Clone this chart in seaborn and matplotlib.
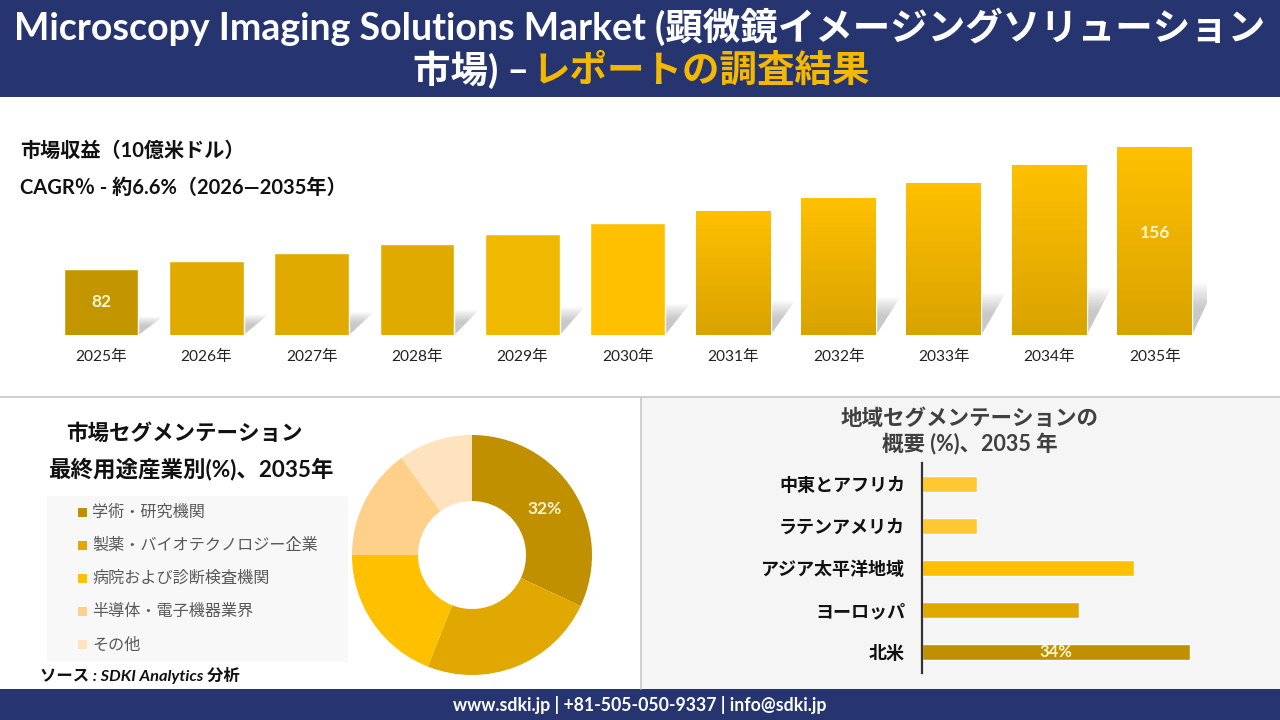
import numpy as np
import pandas as pd
import matplotlib
matplotlib.use("Agg")
import matplotlib.pyplot as plt
import seaborn as sns
from matplotlib.patches import Rectangle, Polygon
from matplotlib.colors import LinearSegmentedColormap

sns.set_style("white")
plt.rcParams['font.family'] = ['Lato', 'Noto Sans CJK JP', 'DejaVu Sans']

# ---- data ----
years = ['2025年', '2026年', '2027年', '2028年', '2029年', '2030年',
         '2031年', '2032年', '2033年', '2034年', '2035年']
revenue = [82, 87, 92, 97, 103, 110, 117, 125, 134, 145, 156]
bar_colors = ['#C39600', '#E0AA00', '#E0AA00', '#E0AA00', '#F0B800', '#FFC000',
              '#FFC000', '#FFC000', '#FFC000', '#FFC000', '#FFC000']
gradient_bars = [6, 7, 8, 9, 10]

end_use = ['学術・研究機関', '製薬・バイオテクノロジー企業', '病院および診断検査機関',
           '半導体・電子機器業界', 'その他']
end_use_share = [32, 24, 19, 15, 10]
end_use_colors = ['#C09000', '#E0A800', '#FFC000', '#FFD08A', '#FFE2BE']

regions = ['中東とアフリカ', 'ラテンアメリカ', 'アジア太平洋地域', 'ヨーロッパ', '北米']
region_share = [7, 7, 27, 20, 34]
region_colors = ['#FFC832', '#FFC832', '#FFC000', '#E0A800', '#C09000']

NAVY = '#263470'
GOLD = '#F5B800'

W, H = 1280, 720
fig = plt.figure(figsize=(12.8, 7.2), dpi=100)


def fx(x):
    return x / W


def fy(y):
    return 1 - y / H


def rect(x0, y0, x1, y1, color, z=-1, **kw):
    fig.patches.append(Rectangle((fx(x0), fy(y1)), fx(x1 - x0), (y1 - y0) / H,
                                 transform=fig.transFigure, facecolor=color,
                                 edgecolor='none', zorder=z, **kw))


# backgrounds
rect(0, 0, 1280, 97, NAVY)
rect(641, 397, 1280, 689, '#F5F5F5')
rect(47, 496, 348, 662, '#F8F8F8')
rect(0, 689, 1280, 720, NAVY)
fig.add_artist(plt.Line2D([0, 1], [fy(396.5)] * 2, color='#C8C8C8', lw=1.2, zorder=-0.5))
fig.add_artist(plt.Line2D([fx(640.5)] * 2, [fy(397), fy(689)], color='#C8C8C8', lw=1.2,
                          zorder=-0.5))

# header
fig.text(0.5, fy(27), 'Microscopy Imaging Solutions Market (顕微鏡イメージングソリューション',
         ha='center', va='center', color='white', fontsize=27, fontweight='bold')
fig.text(fx(529), fy(70), '市場) –', ha='right', va='center', color='white',
         fontsize=27, fontweight='bold')
fig.text(fx(533), fy(70), 'レポートの調査結果', ha='left', va='center', color=GOLD,
         fontsize=27, fontweight='bold')

# top texts
fig.text(fx(20), fy(151), '市場収益（10億米ドル）', ha='left', va='center',
         fontsize=14.5, fontweight='bold', color='#111111')
fig.text(fx(20), fy(188), 'CAGR％ - 約6.6%（2026―2035年）', ha='left', va='center',
         fontsize=14.5, fontweight='bold', color='#111111')

# ---- revenue bars ----
ymin = 42
ax1 = fig.add_axes([fx(48.3), fy(335), fx(1159), 205 / H])
df_rev = pd.DataFrame({'year': years, 'value': revenue})
sns.barplot(data=df_rev, x='year', y='value', hue='year', palette=bar_colors,
            saturation=1, legend=False, width=0.71, ax=ax1, zorder=3)
ax1.set_xlim(-0.5, len(years) - 0.5)
ax1.set_ylim(ymin, ymin + 205 / 1.649)
ax1.axis('off')

bars = list(ax1.patches)
grad = np.linspace(0, 1, 100).reshape(-1, 1)
cmap = LinearSegmentedColormap.from_list('g', ['#D9A300', '#FFC000'])
for i in gradient_bars:
    p = bars[i]
    x0, w, h = p.get_x(), p.get_width(), p.get_height()
    im = ax1.imshow(grad, cmap=cmap, aspect='auto', origin='lower',
                    extent=[x0, x0 + w, ymin, h], zorder=4)
    im.set_clip_path(p)

# soft skewed shadow behind each bar
for p in bars:
    xl, xr = p.get_x(), p.get_x() + p.get_width()
    T = (p.get_height() - ymin) * 0.24
    for s in np.linspace(1.15, 0.6, 11):
        d = 0.2 * s
        t = T * s
        ax1.add_patch(Polygon([(xl, ymin), (xr, ymin), (xr + d, ymin + t),
                               (xl + d, ymin + t)],
                              closed=True, facecolor='#7A7A7A', edgecolor='none',
                              alpha=0.042, zorder=1))

for i, frac in [(0, 0.5), (len(years) - 1, 0.54)]:
    ax1.text(i, ymin + (revenue[i] - ymin) * frac, str(revenue[i]),
             ha='center', va='center', color='#FFF5D0', fontsize=12.5,
             fontweight='bold', zorder=6)
for i, y in enumerate(years):
    ax1.text(i, ymin - 22 / 1.649, y, ha='center', va='center', fontsize=11.2,
             color='#222222', clip_on=False)

# ---- end-use donut ----
fig.text(fx(184), fy(433), '市場セグメンテーション', ha='center', va='center',
         fontsize=15.5, fontweight='bold', color='#111111')
fig.text(fx(191), fy(469), '最終用途産業別(%)、2035年', ha='center', va='center',
         fontsize=16.2, fontweight='bold', color='#111111')
for i, (lab, c) in enumerate(zip(end_use, end_use_colors)):
    yy = 512 + i * 33.2
    rect(78, yy - 4.5, 87, yy + 4.5, c, z=2)
    fig.text(fx(92), fy(yy), lab, ha='left', va='center', fontsize=11.6,
             color='#595959')
fig.text(fx(40), fy(676), 'ソース : SDKI Analytics 分析', ha='left', va='center',
         fontsize=11.8, fontstyle='italic', fontweight='bold', color='#111111')

ax2 = fig.add_axes([fx(352), fy(675), 240 / W, 240 / H])
ax2.pie(end_use_share, colors=end_use_colors, startangle=90, counterclock=False,
        wedgeprops=dict(width=0.55, edgecolor='none'))
ang = np.deg2rad(90 - 360 * end_use_share[0] / 200)
ax2.text(0.72 * np.cos(ang), 0.72 * np.sin(ang), f'{end_use_share[0]}%',
         ha='center', va='center', color='#FFF5D0', fontsize=12.5, fontweight='bold')
ax2.set_xlim(-1, 1)
ax2.set_ylim(-1, 1)
ax2.set_aspect('equal')

# ---- regional bars ----
fig.text(fx(970), fy(418), '地域セグメンテーションの', ha='center', va='center',
         fontsize=15.5, fontweight='bold', color='#404040')
fig.text(fx(970), fy(444), '概要 (%)、2035 年', ha='center', va='center',
         fontsize=15.5, fontweight='bold', color='#404040')

ax3 = fig.add_axes([fx(921.6), fy(673), 300 / W, 210 / H])
df_reg = pd.DataFrame({'region': regions, 'share': region_share})
sns.barplot(data=df_reg, y='region', x='share', hue='region', palette=region_colors,
            saturation=1, legend=False, orient='h', width=0.38, ax=ax3)
ax3.set_xlim(0, 34 / 268 * 300)
ax3.set_facecolor('none')
for s in ['top', 'right', 'bottom']:
    ax3.spines[s].set_visible(False)
ax3.spines['left'].set_color('#333333')
ax3.spines['left'].set_linewidth(1.6)
ax3.set_xticks([])
ax3.set_xlabel('')
ax3.set_ylabel('')
ax3.tick_params(axis='y', length=0, pad=12)
for t in ax3.get_yticklabels():
    t.set_fontsize(13)
    t.set_fontweight('bold')
    t.set_color('#111111')
ax3.text(region_share[-1] / 2, len(regions) - 1, f'{region_share[-1]}%', ha='center',
         va='center', color='#FFF5D0', fontsize=12, fontweight='bold')

# footer
fig.text(0.5, fy(705), 'www.sdki.jp | +81-505-050-9337 | info@sdki.jp', ha='center',
         va='center', color='white', fontsize=12.7, fontweight='bold')

fig.savefig('out.png', dpi=100)
